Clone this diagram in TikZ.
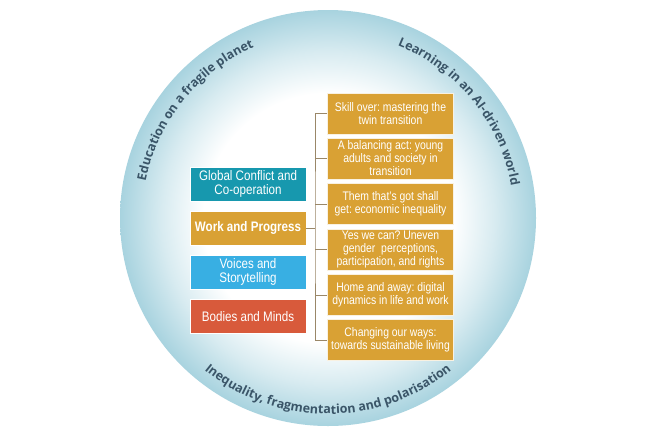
\documentclass[tikz,border=0pt]{standalone}
\usepackage{fontspec}
\setmainfont{Liberation Sans}[FakeStretch=0.84]
\newfontfamily\arcfont{Open Sans}
\usetikzlibrary{decorations.text}
\definecolor{rimblue}{HTML}{A8D3DF}
\definecolor{tealbox}{HTML}{1798AE}
\definecolor{goldbox}{HTML}{D9A134}
\definecolor{skybox}{HTML}{38AFE3}
\definecolor{redbox}{HTML}{D85A3B}
\definecolor{arctext}{HTML}{3A5568}
\definecolor{linkcol}{HTML}{9A8768}
\pgfdeclareradialshading{rimshade}{\pgfpoint{0bp}{0bp}}{color(0bp)=(white); color(15bp)=(white); color(20bp)=(rimblue!45!white); color(25bp)=(rimblue); color(50bp)=(rimblue)}
\tikzset{
  leftbox/.style={draw=white, line width=0.6pt, text=white, minimum width=116pt, minimum height=34pt, align=center, inner sep=1pt, font=\frenchspacing\fontsize{13.8}{14.4}\selectfont},
  rightbox/.style={draw=white!85!goldbox, line width=0.6pt, fill=goldbox, text=white, minimum width=126pt, minimum height=41pt, align=center, inner sep=1pt, font=\frenchspacing\fontsize{12.4}{13}\selectfont},
  link/.style={draw=linkcol, line width=0.6pt},
  arclabel/.style={decorate, decoration={text along path, text align=center, text color=arctext}}
}
\begin{document}
\frenchspacing
\begin{tikzpicture}[x=1pt,y=-1pt]
\useasboundingbox (0,0) rectangle (660,440);
\fill[white] (0,0) rectangle (660,440);
\shade[shading=rimshade] (328,218) circle[radius=208pt];
% curved texts
\begin{scope}[shift={(328,218)}]
\path[arclabel, decoration={text={|\arcfont\bfseries\fontsize{12.5}{14}\selectfont|Education on a fragile planet}}]
  (191:186pt) arc[start angle=191, end angle=91, radius=186pt];
\path[arclabel, decoration={text={|\arcfont\bfseries\fontsize{12.5}{14}\selectfont|Learning in an AI-driven world}}]
  (89:186pt) arc[start angle=89, end angle=-11, radius=186pt];
\path[arclabel, decoration={text={|\arcfont\bfseries\fontsize{12.5}{14}\selectfont|Inequality{,} fragmentation and polarisation}}]
  (218:196pt) arc[start angle=218, end angle=322, radius=196pt];
\end{scope}
% left boxes
\node[leftbox, fill=tealbox] (gc) at (248,184) {Global Conflict and\\Co-operation};
\node[leftbox, fill=goldbox, font=\fontsize{13.8}{14.4}\selectfont\bfseries] (wp) at (248,228) {Work and Progress};
\node[leftbox, fill=skybox] (vs) at (248,272) {Voices and\\Storytelling};
\node[leftbox, fill=redbox] (bm) at (248,316.5) {Bodies and Minds};
% right boxes
\node[rightbox] (r1) at (390.5,113.5) {Skill over: mastering the\\twin transition};
\node[rightbox] (r2) at (390.5,158.5) {A balancing act: young\\adults and society in\\transition};
\node[rightbox] (r3) at (390.5,204) {Them that's got shall\\get: economic inequality};
\node[rightbox] (r4) at (390.5,249.5) {Yes we can? Uneven\\gender\ \ perceptions,\\participation, and rights};
\node[rightbox] (r5) at (390.5,295) {Home and away: digital\\dynamics in life and work};
\node[rightbox] (r6) at (390.5,340) {Changing our ways:\\towards sustainable living};
% connectors
\coordinate (spine) at (315,228);
\draw[link] (wp.east) -- (spine);
\draw[link] (r1.west) -| (spine) |- (r6.west);
\foreach \r in {r2,r3,r4,r5}{\draw[link] (\r.west) -- (\r.west -| spine);}
\end{tikzpicture}
\end{document}
